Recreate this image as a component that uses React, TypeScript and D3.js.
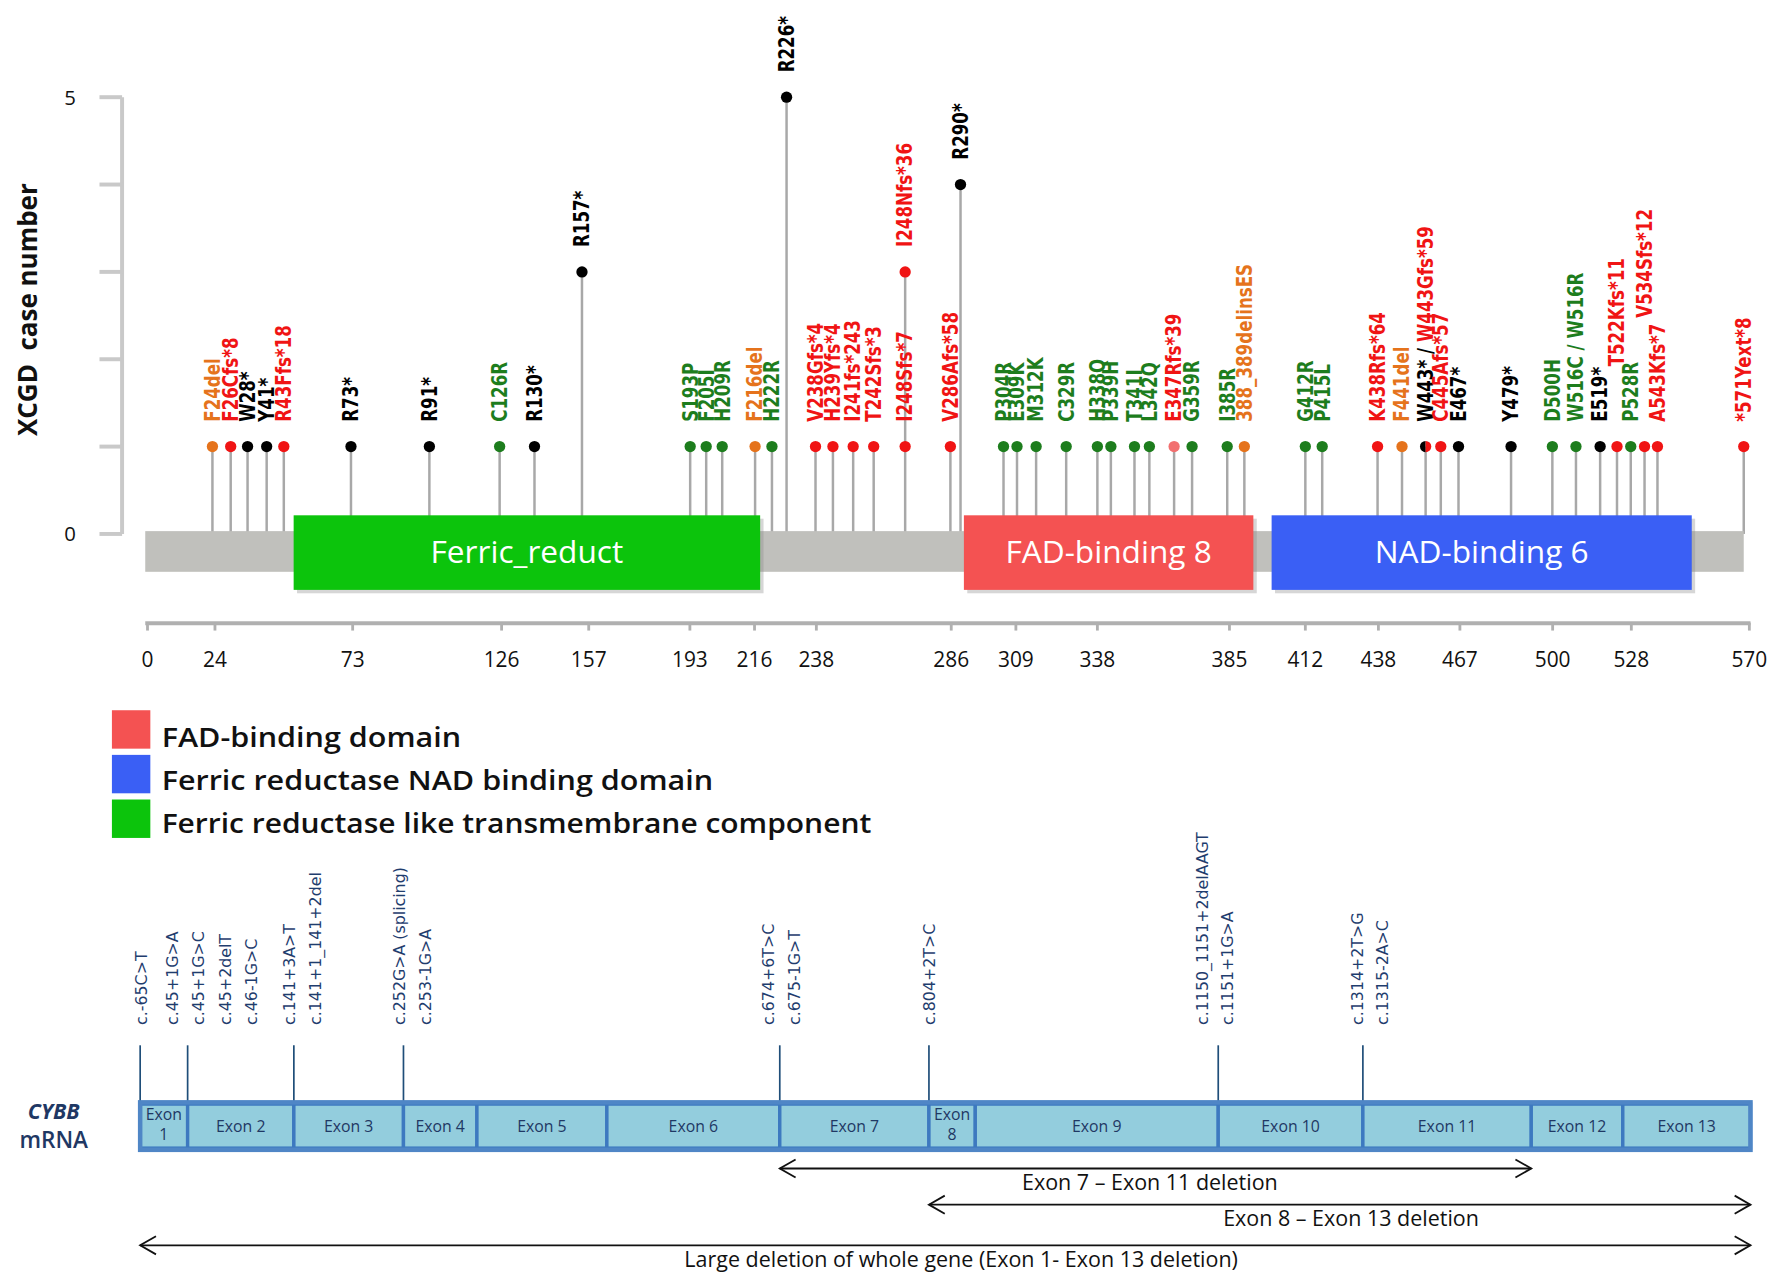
import React from 'react';
import * as d3 from 'd3';

// ---------- protein panel ----------
const proteinLength = 570;
const positionTicks = [0, 24, 73, 126, 157, 193, 216, 238, 286, 309, 338, 385, 412, 438, 467, 500, 528, 570];
const caseTicks = [0, 1, 2, 3, 4, 5];
const caseTickLabels = [0, 5];

const domainNames = ['Ferric_reduct', 'FAD-binding 8', 'NAD-binding 6'];
const domainStarts = [52, 290.5, 400];
const domainEnds = [218, 393.5, 549.5];

// label, where the lollipop sits on the residue axis (as drawn), case number, mutation type
const mutations = [
  { label: 'F24del', at: 23.1, count: 1, kind: 'inframe' },
  { label: 'F26Cfs*8', at: 29.6, count: 1, kind: 'frameshift' },
  { label: 'W28*', at: 35.6, count: 1, kind: 'nonsense' },
  { label: 'Y41*', at: 42.4, count: 1, kind: 'nonsense' },
  { label: 'R43Ffs*18', at: 48.5, count: 1, kind: 'frameshift' },
  { label: 'R73*', at: 72.4, count: 1, kind: 'nonsense' },
  { label: 'R91*', at: 100.3, count: 1, kind: 'nonsense' },
  { label: 'C126R', at: 125.3, count: 1, kind: 'missense' },
  { label: 'R130*', at: 137.7, count: 1, kind: 'nonsense' },
  { label: 'R157*', at: 154.6, count: 3, kind: 'nonsense' },
  { label: 'S193P', at: 193.1, count: 1, kind: 'missense' },
  { label: 'F205I', at: 198.8, count: 1, kind: 'missense' },
  { label: 'H209R', at: 204.5, count: 1, kind: 'missense' },
  { label: 'F216del', at: 216.2, count: 1, kind: 'inframe' },
  { label: 'H222R', at: 222.2, count: 1, kind: 'missense' },
  { label: 'R226*', at: 227.4, count: 5, kind: 'nonsense' },
  { label: 'V238Gfs*4', at: 237.7, count: 1, kind: 'frameshift' },
  { label: 'H239Yfs*4', at: 243.9, count: 1, kind: 'frameshift' },
  { label: 'I241fs*243', at: 251.1, count: 1, kind: 'frameshift' },
  { label: 'T242Sfs*3', at: 258.4, count: 1, kind: 'frameshift' },
  { label: 'I248Sfs*7', at: 269.6, count: 1, kind: 'frameshift' },
  { label: 'I248Nfs*36', at: 269.6, count: 3, kind: 'frameshift' },
  { label: 'V286Afs*58', at: 285.7, count: 1, kind: 'frameshift' },
  { label: 'R290*', at: 289.3, count: 4, kind: 'nonsense' },
  { label: 'P304R', at: 304.6, count: 1, kind: 'missense' },
  { label: 'E309K', at: 309.4, count: 1, kind: 'missense' },
  { label: 'M312K', at: 316.2, count: 1, kind: 'missense' },
  { label: 'C329R', at: 326.9, count: 1, kind: 'missense' },
  { label: 'H338Q', at: 338, count: 1, kind: 'missense' },
  { label: 'P339H', at: 342.8, count: 1, kind: 'missense' },
  { label: 'T341I', at: 351.2, count: 1, kind: 'missense' },
  { label: 'L342Q', at: 356.5, count: 1, kind: 'missense' },
  { label: 'E347Rfs*39', at: 365.3, count: 1, kind: 'frameshift' },
  { label: 'G359R', at: 371.7, count: 1, kind: 'missense' },
  { label: 'I385R', at: 384.2, count: 1, kind: 'missense' },
  { label: '388_389delinsES', at: 390.3, count: 1, kind: 'inframe' },
  { label: 'G412R', at: 412, count: 1, kind: 'missense' },
  { label: 'P415L', at: 418, count: 1, kind: 'missense' },
  { label: 'K438Rfs*64', at: 437.7, count: 1, kind: 'frameshift' },
  { label: 'F441del', at: 446.4, count: 1, kind: 'inframe' },
  { label: 'W443* / W443Gfs*59', at: 454.8, count: 1, kind: 'nonsense+frameshift' },
  { label: 'C445Afs*57', at: 460.2, count: 1, kind: 'frameshift' },
  { label: 'E467*', at: 466.5, count: 1, kind: 'nonsense' },
  { label: 'Y479*', at: 485.2, count: 1, kind: 'nonsense' },
  { label: 'D500H', at: 499.9, count: 1, kind: 'missense' },
  { label: 'W516C / W516R', at: 508.3, count: 1, kind: 'missense+missense' },
  { label: 'E519*', at: 516.9, count: 1, kind: 'nonsense' },
  { label: 'T522Kfs*11', at: 522.9, count: 1, kind: 'frameshift' },
  { label: 'P528R', at: 527.8, count: 1, kind: 'missense' },
  { label: 'V534Sfs*12', at: 532.7, count: 1, kind: 'frameshift' },
  { label: 'A543Kfs*7', at: 537.3, count: 1, kind: 'frameshift' },
  { label: '*571Yext*8', at: 568, count: 1, kind: 'frameshift' },
];

const legendLabels = [
  'FAD-binding domain',
  'Ferric reductase NAD binding domain',
  'Ferric reductase like transmembrane component',
];

// ---------- mRNA panel ----------
const exonNames = ['Exon 1', 'Exon 2', 'Exon 3', 'Exon 4', 'Exon 5', 'Exon 6', 'Exon 7',
  'Exon 8', 'Exon 9', 'Exon 10', 'Exon 11', 'Exon 12', 'Exon 13'];
const exonLengths = [42, 94, 97, 65, 115, 153, 132, 41, 215, 128, 149, 81, 113];
// exon boundaries (index into cumulative edges) that carry a splice variant
const spliceSites = [0, 1, 2, 3, 6, 7, 9, 10];
const spliceVariants = [
  { label: 'c.-65C>T', at: 1 },
  { label: 'c.45+1G>A', at: 28 },
  { label: 'c.45+1G>C', at: 51 },
  { label: 'c.45+2delT', at: 75 },
  { label: 'c.46-1G>C', at: 98 },
  { label: 'c.141+3A>T', at: 132 },
  { label: 'c.141+1_141+2del', at: 155 },
  { label: 'c.252G>A (splicing)', at: 229 },
  { label: 'c.253-1G>A', at: 252 },
  { label: 'c.674+6T>C', at: 556 },
  { label: 'c.675-1G>T', at: 579 },
  { label: 'c.804+2T>C', at: 698 },
  { label: 'c.1150_1151+2delAAGT', at: 940 },
  { label: 'c.1151+1G>A', at: 962 },
  { label: 'c.1314+2T>G', at: 1077 },
  { label: 'c.1315-2A>C', at: 1099 },
];
const deletions = [
  { label: 'Exon 7 \u2013 Exon 11 deletion', from: 7, to: 11 },
  { label: 'Exon 8 \u2013 Exon 13 deletion', from: 8, to: 13 },
  { label: 'Large deletion of whole gene (Exon 1- Exon 13 deletion)', from: 1, to: 13 },
];

// ---------- styling ----------
const kindColor: Record<string, string> = {
  missense: '#1d7d1d',
  nonsense: '#000000',
  frameshift: '#f01414',
  inframe: '#e5731c',
};
const paleDots = new Set(['E347Rfs*39']);
const labelLift: Record<string, number> = { 'T522Kfs*11': 49, 'V534Sfs*12': 92 };
const domainColor = ['#0cc40c', '#f45252', '#3a5ff5'];
const legendColor = ['#f45252', '#3a5ff5', '#0cc40c'];
const legendLength = [265, 488, 628];
const deletionRowY = [1034, 1066, 1102];
const deletionNudge = [-5, 10, 14];

const sans = "'Open Sans', 'DejaVu Sans', sans-serif";
const labelFont = "'DejaVu Sans', Verdana, sans-serif";
const navy = '#1f3864';

export default function App() {
  const x = d3.scaleLinear().domain([0, proteinLength]).range([130.5, 1548]);
  const y = d3.scaleLinear().domain([0, 5]).range([472.5, 86]);

  const exonEdges = Array.from(d3.cumsum([0, ...exonLengths]));
  const xm = d3.scaleLinear().domain([0, exonEdges[exonEdges.length - 1]]).range([124, 1549]);

  const stems = d3.rollups(mutations, (v) => d3.max(v, (d) => d.count) as number, (d) => d.at);
  const half = d3.arc<any>().innerRadius(0).outerRadius(5);

  const chevron = (px: number, py: number, dir: number) =>
    `M${px + dir * 14},${py - 8}L${px},${py}L${px + dir * 14},${py + 8}`;

  return (
    <svg
      width={1772}
      height={1286}
      viewBox="0 0 1568 1138"
      style={{ position: 'absolute', left: 0, top: 0, background: '#fff' }}
    >
      <rect width={1568} height={1138} fill="#fff" />

      {/* y axis */}
      <g stroke="#c9c9c9" strokeWidth={3.5} fill="none">
        <line x1={108} x2={108} y1={y(5)} y2={y(0)} />
        {caseTicks.map((t) => (
          <line key={t} x1={88} x2={108} y1={y(t)} y2={y(t)} />
        ))}
      </g>
      {caseTickLabels.map((t) => (
        <text key={t} x={62} y={y(t)} dy="0.36em" textAnchor="middle" fontFamily={sans} fontSize={18} fill="#111">
          {t}
        </text>
      ))}
      <text
        transform={`translate(24,274) rotate(-90)`}
        dy="0.36em"
        textAnchor="middle"
        fontFamily={sans}
        fontWeight="bold"
        fontSize={23}
        fill="#111"
        style={{ whiteSpace: 'pre' }}
      >
        {'XCGD  case number'}
      </text>

      {/* stems */}
      {stems.map(([at, top]) => (
        <line key={at} x1={x(at)} x2={x(at)} y1={y(0)} y2={y(top)} stroke="#a8a8a8" strokeWidth={2.2} />
      ))}

      {/* backbone and domains */}
      <rect x={x(0) - 2} y={470} width={x(568) - x(0) + 2} height={36} fill="#c0c0bc" />
      {domainNames.map((name, i) => (
        <g key={name}>
          <rect x={x(domainStarts[i]) + 3} y={459} width={x(domainEnds[i]) - x(domainStarts[i])} height={66} fill="#8a8a8a" opacity={0.35} />
          <rect x={x(domainStarts[i])} y={456} width={x(domainEnds[i]) - x(domainStarts[i])} height={66} fill={domainColor[i]} />
          <text
            x={(x(domainStarts[i]) + x(domainEnds[i])) / 2}
            y={498}
            textAnchor="middle"
            fontFamily={sans}
            fontSize={28}
            fill="#fff"
          >
            {name}
          </text>
        </g>
      ))}

      {/* dots */}
      {mutations.map((m) => {
        const kinds = m.kind.split('+');
        const cx = x(m.at);
        const cy = y(m.count);
        if (kinds.length > 1 && kinds[0] !== kinds[1]) {
          return (
            <g key={m.label} transform={`translate(${cx},${cy})`}>
              <path d={half({ startAngle: Math.PI, endAngle: 2 * Math.PI }) as string} fill={kindColor[kinds[0]]} />
              <path d={half({ startAngle: 0, endAngle: Math.PI }) as string} fill={kindColor[kinds[1]]} />
            </g>
          );
        }
        return (
          <circle key={m.label} cx={cx} cy={cy} r={5} fill={paleDots.has(m.label) ? '#f27070' : kindColor[kinds[0]]} />
        );
      })}

      {/* mutation labels */}
      {mutations.map((m) => {
        const kinds = m.kind.split('+');
        const parts = m.label.split(' / ');
        const lift = labelLift[m.label] || 0;
        return (
          <text
            key={m.label}
            transform={`translate(${x(m.at)},${y(m.count) - 22 - lift}) rotate(-90) scale(0.82,1)`}
            dy="0.36em"
            fontFamily={labelFont}
            fontWeight="bold"
            fontSize={18}
            style={{ whiteSpace: 'pre' }}
          >
            {parts.map((p, i) => (
              <React.Fragment key={i}>
                {i > 0 && <tspan fill={kindColor[kinds[0]]}>{' / '}</tspan>}
                <tspan fill={kindColor[kinds[i] || kinds[0]]}>{p}</tspan>
              </React.Fragment>
            ))}
          </text>
        );
      })}

      {/* position axis */}
      <line x1={x(0) - 2} x2={x(proteinLength) + 1} y1={551.5} y2={551.5} stroke="#b0b0b0" strokeWidth={3.5} />
      {positionTicks.map((t) => (
        <g key={t}>
          <line x1={x(t)} x2={x(t)} y1={551} y2={558} stroke="#b0b0b0" strokeWidth={2.5} />
          <text x={x(t)} y={584} dy="0.36em" textAnchor="middle" fontFamily={sans} fontSize={18.5} fill="#111">
            {t}
          </text>
        </g>
      ))}

      {/* legend */}
      {legendLabels.map((l, i) => (
        <g key={l}>
          <rect x={99} y={628.5 + i * 39.5} width={34} height={34} fill={legendColor[i]} />
          <text
            x={143}
            y={661 + i * 38}
            fontFamily={sans}
            fontWeight={600}
            fontSize={24}
            fill="#111"
            textLength={legendLength[i]}
            lengthAdjust="spacingAndGlyphs"
          >
            {l}
          </text>
        </g>
      ))}

      {/* mRNA */}
      <text x={47.5} y={990} textAnchor="middle" fontFamily={sans} fontStyle="italic" fontWeight="bold" fontSize={19} fill={navy}>
        CYBB
      </text>
      <text x={47.5} y={1016} textAnchor="middle" fontFamily={sans} fontWeight={600} fontSize={20} fill={navy}>
        mRNA
      </text>

      {spliceSites.map((s) => (
        <line key={s} x1={xm(exonEdges[s])} x2={xm(exonEdges[s])} y1={925} y2={976} stroke="#1f4e79" strokeWidth={1.5} />
      ))}
      {spliceVariants.map((v) => (
        <text
          key={v.label}
          transform={`translate(${xm(v.at)},907) rotate(-90)`}
          dy="0.36em"
          fontFamily={labelFont}
          fontSize={14}
          fill="#1f3d6e"
        >
          {v.label}
        </text>
      ))}

      {exonNames.map((name, i) => {
        const x0 = xm(exonEdges[i]);
        const x1 = xm(exonEdges[i + 1]);
        const cx = (x0 + x1) / 2;
        const narrow = x1 - x0 < 50;
        const [word, num] = name.split(' ');
        return (
          <g key={name}>
            <rect x={x0} y={977} width={x1 - x0} height={39} fill="#93cddd" stroke="#3d79c0" strokeWidth={3} />
            {narrow ? (
              <text textAnchor="middle" fontFamily={sans} fontSize={14} fill={navy}>
                <tspan x={cx} y={991}>{word}</tspan>
                <tspan x={cx} y={1009}>{num}</tspan>
              </text>
            ) : (
              <text x={cx} y={1002} textAnchor="middle" fontFamily={sans} fontSize={14} fill={navy}>
                {name}
              </text>
            )}
          </g>
        );
      })}
      <rect x={xm(0)} y={975.5} width={xm(exonEdges[exonEdges.length - 1]) - xm(0)} height={42} fill="none" stroke="#4f86c6" strokeWidth={4} />

      {/* deletions */}
      {deletions.map((d, i) => {
        const x0 = xm(exonEdges[d.from - 1]);
        const x1 = xm(exonEdges[d.to]);
        const ry = deletionRowY[i];
        return (
          <g key={d.label}>
            <g stroke="#111" strokeWidth={1.6} fill="none">
              <line x1={x0} x2={x1} y1={ry} y2={ry} />
              <path d={chevron(x0, ry, 1)} />
              <path d={chevron(x1, ry, -1)} />
            </g>
            <text
              x={(x0 + x1) / 2 + deletionNudge[i]}
              y={ry + 19}
              textAnchor="middle"
              fontFamily={sans}
              fontSize={19}
              fill="#111"
            >
              {d.label}
            </text>
          </g>
        );
      })}
    </svg>
  );
}
